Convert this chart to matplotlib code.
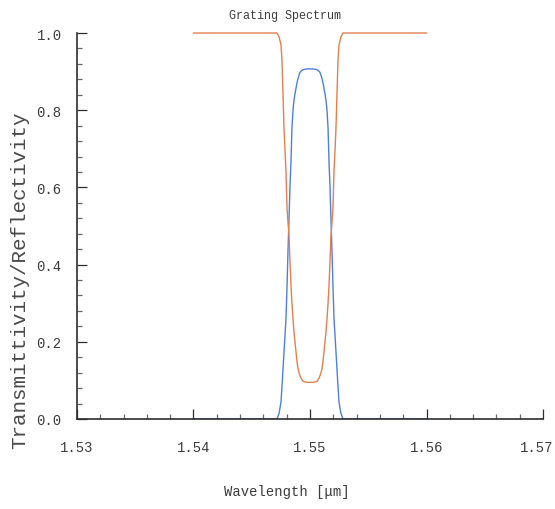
import matplotlib
matplotlib.use("Agg")
import matplotlib.pyplot as plt
from matplotlib.ticker import MultipleLocator
from matplotlib.transforms import ScaledTranslation

# Wavelength samples (um) for the left half of the stop band; right half is mirrored about 1.55
wl_left = [1.5400, 1.5460, 1.54717, 1.54735, 1.54751, 1.54760, 1.54777, 1.54794,
           1.54803, 1.54811, 1.54820, 1.54828, 1.54837, 1.54845, 1.54854, 1.54862,
           1.54871, 1.54880, 1.54888, 1.54897, 1.54906, 1.54914, 1.54930, 1.54940,
           1.54957, 1.54975, 1.55000]

# Transmittivity (orange) at those wavelengths
trans_left = [1.000, 1.000, 1.000, 0.990, 0.969, 0.927, 0.753, 0.640,
              0.545, 0.510, 0.475, 0.410, 0.345, 0.300, 0.260, 0.228,
              0.200, 0.174, 0.150, 0.130, 0.120, 0.112, 0.102, 0.098,
              0.096, 0.095, 0.095]

# Reflectivity (blue) at those wavelengths
refl_left = [0.000, 0.000, 0.000, 0.015, 0.044, 0.086, 0.174, 0.260,
             0.345, 0.434, 0.519, 0.600, 0.668, 0.753, 0.800, 0.824,
             0.842, 0.857, 0.870, 0.882, 0.891, 0.898, 0.903, 0.905,
             0.906, 0.907, 0.907]

wl = wl_left + [round(3.1 - w, 5) for w in wl_left[-2::-1]]
trans = trans_left + trans_left[-2::-1]
refl = refl_left + refl_left[-2::-1]

x_ticks = [1.53, 1.54, 1.55, 1.56, 1.57]
y_ticks = [0.0, 0.2, 0.4, 0.6, 0.8, 1.0]

mono = "Liberation Mono"
spine_col = "#2e2e2e"
text_col = "#3c3c3c"

fig = plt.figure(figsize=(5.55, 5.10), dpi=100)
ax = fig.add_axes([0.1387, 0.1765, 0.8397, 0.7568])

ax.plot(wl, refl, color="#4f80d8", lw=1.0, zorder=2)
ax.plot(wl, trans, color="#e2804f", lw=1.0, zorder=2, clip_on=False)

ax.set_xlim(1.53, 1.57)
ax.set_ylim(0.0, 1.0)
ax.set_xticks(x_ticks)
ax.set_yticks(y_ticks)
ax.set_xticklabels([f"{v:.2f}" for v in x_ticks])
ax.set_yticklabels([f"{v:.1f}" for v in y_ticks])
ax.xaxis.set_minor_locator(MultipleLocator(0.002))
ax.yaxis.set_minor_locator(MultipleLocator(0.04))

for side in ["top", "right"]:
    ax.spines[side].set_visible(False)
for side in ["left", "bottom"]:
    ax.spines[side].set_color(spine_col)
    ax.spines[side].set_linewidth(1.2)
    ax.spines[side].set_zorder(5)

ax.tick_params(which="major", direction="in", length=7, width=0.9, color=spine_col)
ax.tick_params(which="minor", direction="in", length=3.6, width=0.9, color="#666666")
ax.tick_params(axis="y", which="major", pad=11)
ax.tick_params(axis="x", which="major", pad=15)
for lab in ax.get_xticklabels() + ax.get_yticklabels():
    lab.set_fontfamily(mono)
    lab.set_fontsize(10)
    lab.set_color(text_col)

# keep the last x label inside the canvas
last = ax.get_xticklabels()[-1]
last.set_transform(last.get_transform() + ScaledTranslation(-6 / 100, 0, fig.dpi_scale_trans))

fig.text(0.514, 0.968, "Grating Spectrum", ha="center", va="center",
         fontfamily=mono, fontsize=8.5, color=text_col)
fig.text(0.517, 0.035, "Wavelength [\u03bcm]", ha="center", va="center",
         fontfamily=mono, fontsize=10, color=text_col)
fig.text(0.036, 0.45, "Transmittivity/Reflectivity", rotation=90,
         ha="center", va="center", fontfamily=mono, fontsize=15, color="#4a4a4a")

fig.savefig("out.png", dpi=100, facecolor="white")
